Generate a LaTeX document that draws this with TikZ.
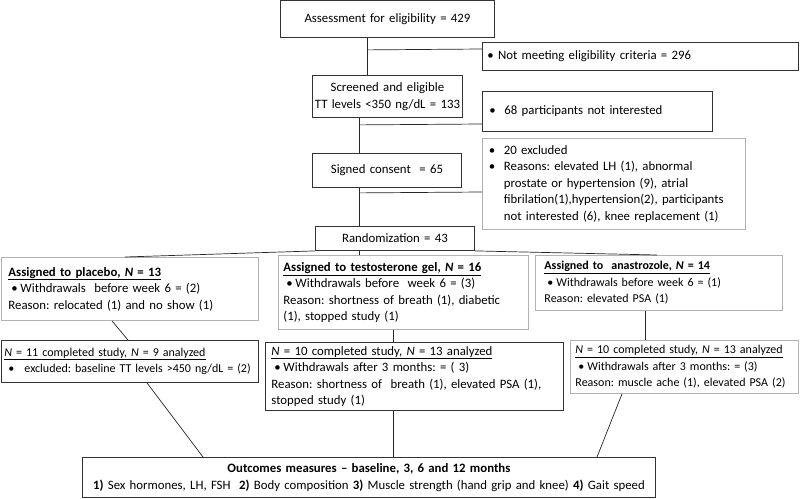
\documentclass[tikz,border=0pt]{standalone}
\usepackage{fontspec}
\setmainfont{Carlito}
\usetikzlibrary{calc}
\frenchspacing
\newcommand\fs{\fontsize{12.8}{16.5}\selectfont\frenchspacing}
\newcommand\fss{\fontsize{12}{16.5}\selectfont\frenchspacing}
\newcommand\bul{\makebox[9pt][l]{\textbullet}}
\begin{document}
\begin{tikzpicture}[x=1pt,y=-1pt,
  box/.style={draw=black!80, line width=0.9pt, rectangle, anchor=north west, inner xsep=0pt, inner ysep=0pt, font=\fs, align=left},
  gbox/.style={box, draw=black!30},
  link/.style={draw=black!85, line width=0.7pt}]
\useasboundingbox[fill=white] (0,0) rectangle (800,498);

\node[box, align=center, minimum width=214pt, minimum height=37pt, text width=206pt] (assess) at (280,0) {Assessment for eligibility = 429};
\node[box, minimum width=316pt, minimum height=28pt, text width=306pt] (notmeet) at (482,42) {\textbullet\ Not meeting eligibility criteria = 296};
\node[box, align=center, minimum width=150pt, minimum height=42pt, text width=148pt] (screen) at (312,75) {Screened and eligible\\TT levels <350 ng/dL = 133};
\node[box, minimum width=230pt, minimum height=40pt, text width=216pt] (notint) at (482,91) {\makebox[15pt][l]{\textbullet}68 participants not interested};
\node[gbox, minimum width=263pt, minimum height=91pt, text width=250pt] (excl) at (482,138) {\makebox[15pt][l]{\textbullet}20 excluded\\
\makebox[15pt][l]{\textbullet}\makebox[235pt][s]{Reasons: elevated LH (1), abnormal}\\
\hspace*{15pt}\makebox[235pt][s]{prostate or hypertension (9), atrial}\\
\hspace*{15pt}\makebox[235pt][s]{fibrilation(1),hypertension(2), participants}\\
\hspace*{15pt}not interested (6), knee replacement (1)};
\node[box, align=center, minimum width=149pt, minimum height=34pt, text width=145pt] (signed) at (312,153) {Signed consent\ \ = 65};
\node[box, align=center, minimum width=159pt, minimum height=24pt, text width=155pt] (rand) at (315,226) {Randomization = 43};

\node[gbox, minimum width=257pt, minimum height=63pt, text width=243pt] (placebo) at (1,257) {\underline{\textbf{Assigned to placebo, \textit{N} = 13}}\\
\hspace*{3pt}\bul Withdrawals\ \ before week 6 = (2)\\
Reason: relocated (1) and no show (1)};
\node[gbox, minimum width=250pt, minimum height=74pt, text width=240pt] (testo) at (278,255) {\underline{\textbf{Assigned to testosterone gel, \textit{N} = 16}}\\
\hspace*{3pt}\bul Withdrawals before\ \ week 6 = (3)\\
Reason: shortness of breath (1), diabetic\\
(1), stopped study (1)};
\node[gbox, font=\fss, minimum width=247pt, minimum height=55pt, text width=229pt] (anast) at (535,255) {\underline{\textbf{Assigned to\ \ anastrozole, \textit{N} = 14}}\\
\hspace*{3pt}\bul Withdrawals before week 6 = (1)\\
Reason: elevated PSA (1)};

\node[box, font=\fss, minimum width=257pt, minimum height=42pt, text width=251pt] (compl1) at (1,340) {\underline{\textit{N} = 11 completed study, \textit{N} = 9 analyzed}\\
\hspace*{4pt}\makebox[16pt][l]{\textbullet}excluded: baseline TT levels >450 ng/dL = (2)};
\node[box, minimum width=298pt, minimum height=68pt, text width=286pt] (compl2) at (265,342) {\underline{\textit{N} = 10 completed study, \textit{N} = 13 analyzed}\\
\hspace*{3pt}\bul Withdrawals after 3 months: = ( 3)\\
Reason: shortness of\ \ breath (1), elevated PSA (1),\\
stopped study (1)};
\node[gbox, font=\fss, minimum width=228pt, minimum height=53pt, text width=218pt] (compl3) at (570,340) {\underline{\textit{N} = 10 completed study, \textit{N} = 13 analyzed}\\
\hspace*{3pt}\bul Withdrawals after 3 months: = (3)\\
Reason: muscle ache (1), elevated PSA (2)};

\node[box, align=center, minimum width=573pt, minimum height=40pt, text width=569pt] (outc) at (82,457) {\textbf{Outcomes measures -- baseline, 3, 6 and 12 months}\\
\textbf{1)} Sex hormones, LH, FSH\ \ \textbf{2)} Body composition \textbf{3)} Muscle strength (hand grip and knee) \textbf{4)} Gait speed};

\draw[link] ($(assess.south west)+(87,0)$) -- ($(screen.north west)+(55,0)$);
\draw[link] ($(assess.south west)+(87,12)$) -- ($(notmeet.north west)+(0,7)$);
\draw[link] ($(screen.south west)+(47,0)$) -- ($(signed.north west)+(47,0)$);
\draw[link] ($(screen.south west)+(47,7)$) -- ($(notint.north west)+(0,33)$);
\draw[link] ($(signed.south west)+(47,0)$) -- ($(rand.north west)+(44,0)$);
\draw[link] ($(signed.south west)+(47,5)$) -- ($(excl.north west)+(0,54)$);
\draw[link] (rand.south west) -- ($(placebo.north west)+(124,0)$);
\draw[link] ($(rand.south west)+(44,0)$) -- ($(testo.north west)+(81,0)$);
\draw[link] (rand.south east) -- ($(anast.north west)+(122,0)$);
\draw[link] ($(placebo.south west)+(111,0)$) -- ($(compl1.north west)+(127,0)$);
\draw[link] ($(testo.south west)+(115,0)$) -- ($(compl2.north west)+(128,0)$);
\draw[link] ($(anast.south west)+(110,0)$) -- ($(compl3.north west)+(75,0)$);
\draw[link] ($(compl1.south west)+(146,0)$) -- ($(outc.north west)+(121,0)$);
\draw[link] ($(compl2.south west)+(128,0)$) -- ($(outc.north west)+(311,0)$);
\draw[link] ($(compl3.south west)+(52,0)$) -- ($(outc.north west)+(515,0)$);
\end{tikzpicture}
\end{document}
